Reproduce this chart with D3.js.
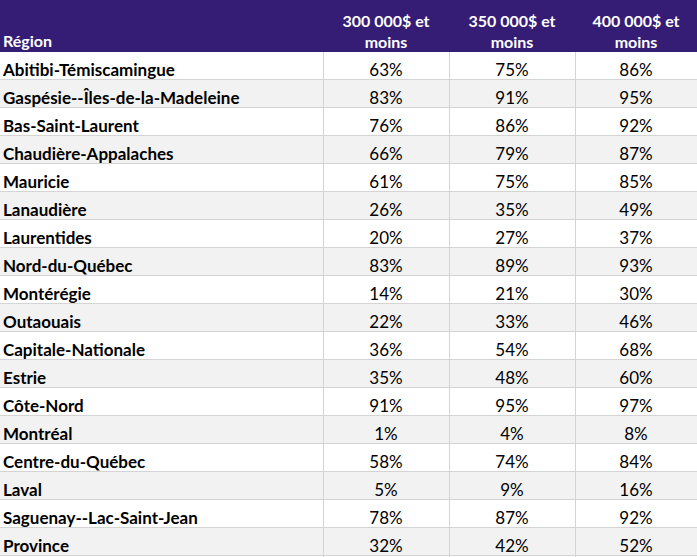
<!DOCTYPE html>
<html><head><meta charset="utf-8">
<script src="https://cdn.jsdelivr.net/npm/d3@7"></script>
<style>body{margin:0;background:#fff}svg{display:block}</style>
</head><body>
<svg id="c" width="697" height="557"></svg>
<script>
const headers = ["Région", "300 000$ et\nmoins", "350 000$ et\nmoins", "400 000$ et\nmoins"];
const regions = ["Abitibi-Témiscamingue","Gaspésie--Îles-de-la-Madeleine","Bas-Saint-Laurent","Chaudière-Appalaches","Mauricie","Lanaudière","Laurentides","Nord-du-Québec","Montérégie","Outaouais","Capitale-Nationale","Estrie","Côte-Nord","Montréal","Centre-du-Québec","Laval","Saguenay--Lac-Saint-Jean","Province"];
const v300 = [63,83,76,66,61,26,20,83,14,22,36,35,91,1,58,5,78,32];
const v350 = [75,91,86,79,75,35,27,89,21,33,54,48,95,4,74,9,87,42];
const v400 = [86,95,92,87,85,49,37,93,30,46,68,60,97,8,84,16,92,52];

const W = 697, H = 557, headH = 52, rowH = 28;
const font = "Lato, 'Open Sans', sans-serif";
const svg = d3.select("#c");
const cols = ["region","a","b","c"];
const colEdges = [0, 323, 449, 575, W];
const x = d3.scaleOrdinal().domain(cols).range(colEdges.slice(0,4));
const xw = d3.scaleOrdinal().domain(cols).range(colEdges.slice(1).map((e,i)=>e-colEdges[i]));
const y = d3.scaleBand().domain(regions).range([headH, headH + rowH*regions.length]);

const data = regions.map((r,i)=>({region:r, a:v300[i], b:v350[i], c:v400[i], i}));

// header
svg.append("rect").attr("x",0).attr("y",0).attr("width",W).attr("height",headH).attr("fill","#351c75");
// rows
const rows = svg.selectAll("g.row").data(data).join("g").attr("class","row")
  .attr("transform", d=>`translate(0,${y(d.region)})`);
rows.append("rect").attr("width",W).attr("height",y.bandwidth())
  .attr("fill", d=> d.i%2 ? "#f2f2f2" : "#ffffff");
rows.append("line").attr("x1",0).attr("x2",W).attr("y1",y.bandwidth()-0.5).attr("y2",y.bandwidth()-0.5)
  .attr("stroke","#d4d4d4");
// vertical lines
["a","b","c"].forEach(k=>{
  svg.append("line").attr("x1",x(k)+0.5).attr("x2",x(k)+0.5).attr("y1",headH).attr("y2",H)
    .attr("stroke","#d4d4d4");
});
rows.append("text").attr("x",3).attr("y",24)
  .attr("font-family",font).attr("font-weight","bold").attr("font-size",17).attr("fill","#000")
  .text(d=>d.region);
["a","b","c"].forEach(k=>{
  rows.append("text").attr("x",x(k)+xw(k)/2).attr("y",24)
    .attr("text-anchor","middle").attr("font-family",font).attr("font-size",17).attr("fill","#000")
    .text(d=>d[k]+"%");
});
// header text
svg.append("text").attr("x",3).attr("y",47).attr("font-family",font).attr("font-weight","bold")
  .attr("font-size",16).attr("fill","#fff").text(headers[0]);
["a","b","c"].forEach((k,j)=>{
  const lines = headers[j+1].split("\n");
  const t = svg.append("text").attr("text-anchor","middle").attr("font-family",font)
    .attr("font-weight","bold").attr("font-size",16).attr("fill","#fff");
  lines.forEach((ln,li)=>t.append("tspan").attr("x",x(k)+xw(k)/2).attr("y",26.5+li*21).text(ln));
});
</script>
</body></html>
